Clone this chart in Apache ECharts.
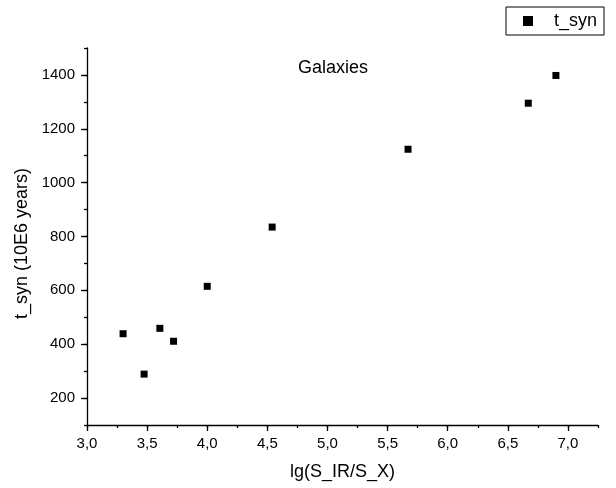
<!DOCTYPE html>
<html>
<head>
<meta charset="utf-8">
<script src="https://cdn.jsdelivr.net/npm/echarts@6/dist/echarts.min.js"></script>
<style>
  html, body { margin: 0; padding: 0; background: #fff; }
  #chart { width: 616px; height: 488px; }
</style>
</head>
<body>
<div id="chart"></div>
<script>
// Synchrotron lifetime versus IR/X-ray flux ratio
const seriesName = 't_syn';
const lgRatio = [3.30, 3.475, 3.606, 3.72, 4.00, 4.54, 5.67, 6.67, 6.90];
const tSyn = [439, 289, 459, 411, 615, 835, 1124, 1295, 1398];
const xTickLabels = [3.0, 3.5, 4.0, 4.5, 5.0, 5.5, 6.0, 6.5, 7.0];
const yTickLabels = [200, 400, 600, 800, 1000, 1200, 1400];

const FONT = 'Liberation Sans, Arial, sans-serif';
const INK = '#000';

const gridBox = { left: 87, right: 18, top: 48, bottom: 63, containLabel: false };

const chart = echarts.init(document.getElementById('chart'), null, { renderer: 'canvas' });

chart.setOption({
  animation: false,
  backgroundColor: '#fff',
  textStyle: { fontFamily: FONT },
  title: {
    text: 'Galaxies',
    left: 298,
    top: 59,
    padding: 0,
    textStyle: { fontFamily: FONT, fontSize: 18, fontWeight: 'normal', color: INK }
  },
  legend: {
    data: [seriesName],
    left: 506,
    top: 7,
    icon: 'rect',
    itemWidth: 10,
    itemHeight: 10,
    padding: [5, 7, 5, 17],
    borderColor: INK,
    borderWidth: 1,
    backgroundColor: '#fff',
    itemStyle: { opacity: 1 },
    textStyle: { fontFamily: FONT, fontSize: 18, color: INK, padding: [0, 0, 0, 16] }
  },
  grid: [
    Object.assign({}, gridBox),
    Object.assign({}, gridBox)
  ],
  xAxis: [
    {
      gridIndex: 0,
      type: 'value',
      min: 3,
      max: 7.25,
      interval: 0.25,
      name: 'lg(S_IR/S_X)',
      nameLocation: 'middle',
      nameGap: 38,
      nameTextStyle: { fontFamily: FONT, fontSize: 18, color: INK },
      axisLine: { show: true, onZero: false, lineStyle: { color: INK, width: 1.3 } },
      axisTick: { show: true, length: 6, lineStyle: { color: INK, width: 1.3 }, customValues: xTickLabels },
      axisLabel: {
        customValues: xTickLabels,
        margin: 11,
        fontFamily: FONT,
        fontSize: 15,
        color: INK,
        formatter: v => v.toFixed(1).replace('.', ',')
      },
      splitLine: { show: false }
    },
    {
      // short ticks every 0.25
      gridIndex: 1,
      type: 'value',
      min: 3,
      max: 7.25,
      interval: 0.25,
      axisLine: { show: false },
      axisTick: { show: true, length: 3, lineStyle: { color: INK, width: 1.3 } },
      axisLabel: { show: false },
      splitLine: { show: false }
    }
  ],
  yAxis: [
    {
      gridIndex: 0,
      type: 'value',
      min: 100,
      max: 1500,
      interval: 100,
      name: 't_syn (10E6 years)',
      nameLocation: 'middle',
      nameGap: 54,
      nameTextStyle: { fontFamily: FONT, fontSize: 18, color: INK, padding: [0, 14, 0, 0] },
      axisLine: { show: true, onZero: false, lineStyle: { color: INK, width: 1.3 } },
      axisTick: { show: true, length: 6, lineStyle: { color: INK, width: 1.3 }, customValues: yTickLabels },
      axisLabel: {
        customValues: yTickLabels,
        margin: 12,
        fontFamily: FONT,
        fontSize: 15,
        color: INK,
        formatter: v => String(v)
      },
      splitLine: { show: false }
    },
    {
      // short ticks every 100
      gridIndex: 1,
      type: 'value',
      min: 100,
      max: 1500,
      interval: 100,
      axisLine: { show: false },
      axisTick: { show: true, length: 3, lineStyle: { color: INK, width: 1.3 } },
      axisLabel: { show: false },
      splitLine: { show: false }
    }
  ],
  series: [
    {
      name: seriesName,
      type: 'scatter',
      xAxisIndex: 0,
      yAxisIndex: 0,
      symbol: 'rect',
      symbolSize: 7,
      itemStyle: { color: INK, opacity: 1 },
      data: lgRatio.map((x, i) => [x, tSyn[i]])
    }
  ]
});
</script>
</body>
</html>
